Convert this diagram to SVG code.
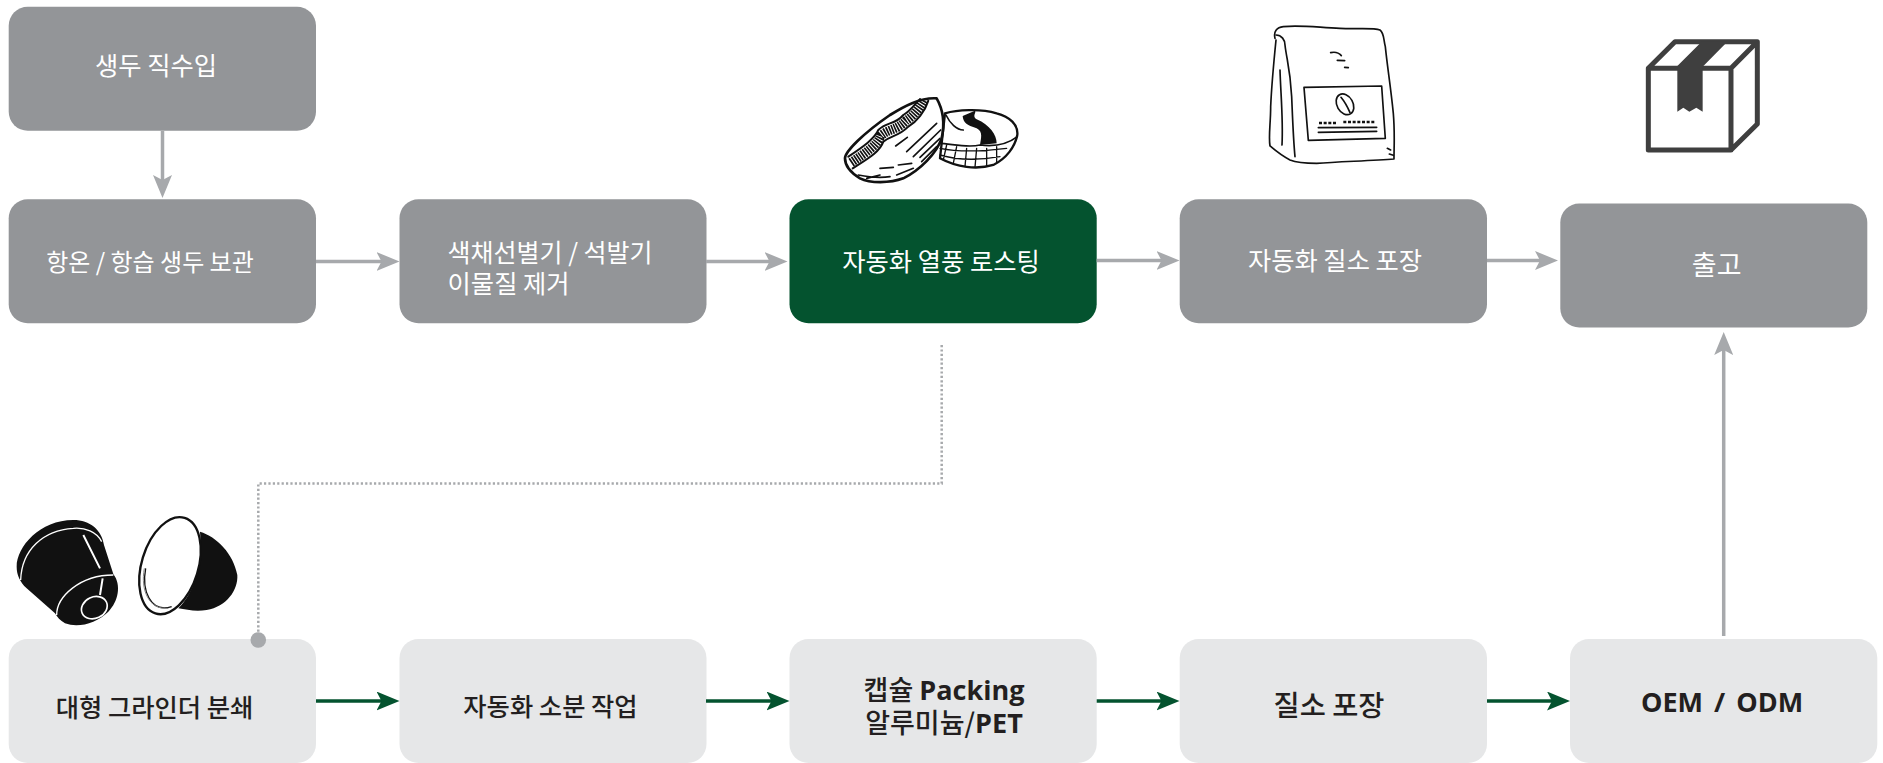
<svg xmlns="http://www.w3.org/2000/svg" width="1883" height="763" viewBox="0 0 1883 763">
<style>
text{font-family:"Noto Sans CJK KR","Noto Sans",sans-serif;font-size:25.3px}
.g{fill:#939598}.l{fill:#e6e7e8}.d{fill:#04532f}
.w{fill:#fff;font-weight:400}.k{fill:#231f20;font-weight:500}
.b{font-family:"Open Sans","Noto Sans CJK KR",sans-serif;font-weight:700}
.c{fill:none;stroke:#a7a9ac;stroke-width:3.5}
.cg{fill:none;stroke:#04532f;stroke-width:3.5}
.ink{fill:none;stroke:#111;stroke-linecap:round;stroke-linejoin:round}
</style>
<defs>
<marker id="ah" markerUnits="userSpaceOnUse" markerWidth="23" markerHeight="19" viewBox="0 0 23 19" refX="6" refY="9.5" orient="auto"><path d="M0,0L23,9.5L0,19L5,9.5Z" fill="#a7a9ac"/></marker>
<marker id="ag" markerUnits="userSpaceOnUse" markerWidth="23" markerHeight="19" viewBox="0 0 23 19" refX="6" refY="9.5" orient="auto"><path d="M0,0L23,9.5L0,19L5,9.5Z" fill="#04532f"/></marker>
</defs>
<rect width="1883" height="763" fill="#fff"/>
<g id="n1"><rect class="g" x="8.7" y="6.7" width="307.3" height="124" rx="19"/><text class="w" x="156" y="75" text-anchor="middle">생두 직수입</text></g>
<g id="n2"><rect class="g" x="8.7" y="199.3" width="307.3" height="124" rx="19"/><text class="w" x="150" y="271" text-anchor="middle" style="font-size:24px">항온 / 항습 생두 보관</text></g>
<g id="n3"><rect class="g" x="399.5" y="199.3" width="307" height="124" rx="19"/><text class="w" x="447.6" y="262" style="font-size:25px">색채선별기 / 석발기</text><text class="w" x="447.6" y="293">이물질 제거</text></g>
<g id="n4"><rect class="d" x="789.5" y="199.3" width="307.2" height="124" rx="19"/><text class="w" x="941" y="271" text-anchor="middle">자동화 열풍 로스팅</text></g>
<g id="n5"><rect class="g" x="1179.7" y="199.3" width="307.3" height="124" rx="19"/><text class="w" x="1335" y="270" text-anchor="middle">자동화 질소 포장</text></g>
<g id="n6"><rect class="g" x="1560.3" y="203.5" width="307" height="124" rx="19"/><text class="w" x="1716.7" y="275" text-anchor="middle" style="font-size:27px">출고</text></g>
<g id="n7"><rect class="l" x="8.7" y="639" width="307.3" height="124" rx="19"/><text class="k" x="154.5" y="717" text-anchor="middle">대형 그라인더 분쇄</text></g>
<g id="n8"><rect class="l" x="399.5" y="639" width="307" height="124" rx="19"/><text class="k" x="550.5" y="716" text-anchor="middle">자동화 소분 작업</text></g>
<g id="n9"><rect class="l" x="789.5" y="639" width="307.2" height="124" rx="19"/><text class="k" x="944" y="700" text-anchor="middle" style="font-size:27px">캡슐 <tspan class="b">Packing</tspan></text><text class="k" x="944" y="733" text-anchor="middle" style="font-size:27px">알루미늄/<tspan class="b">PET</tspan></text></g>
<g id="n10"><rect class="l" x="1179.7" y="639" width="307.3" height="124" rx="19"/><text class="k" x="1329" y="716" text-anchor="middle" style="font-size:28.4px">질소 포장</text></g>
<g id="n11"><rect class="l" x="1570" y="639" width="307.3" height="124" rx="19"/><text class="k b" x="1722" y="712" text-anchor="middle" style="font-size:27px;word-spacing:4px">OEM / ODM</text></g>

<g id="connectors">
<path class="c" marker-end="url(#ah)" d="M162.5,131V181"/>
<path class="c" marker-end="url(#ah)" d="M316,261.5H382.5"/>
<path class="c" marker-end="url(#ah)" d="M706,261.5H770.5"/>
<path class="c" marker-end="url(#ah)" d="M1096.7,260.5H1162.5"/>
<path class="c" marker-end="url(#ah)" d="M1487,260.5H1541"/>
<path class="c" marker-end="url(#ah)" d="M1723.7,636V349"/>
<path class="cg" marker-end="url(#ag)" d="M316,701H382.5"/>
<path class="cg" marker-end="url(#ag)" d="M706,701H772.5"/>
<path class="cg" marker-end="url(#ag)" d="M1096.7,701H1162.5"/>
<path class="cg" marker-end="url(#ag)" d="M1487,701H1553"/>
<path fill="none" stroke="#a7a9ac" stroke-width="2.5" stroke-dasharray="2.2 2.2" d="M941.7,345V483.5H258.3V635"/>
<circle cx="258.3" cy="640" r="7.8" fill="#a7a9ac"/>
</g>

<g id="bean" transform="translate(780 80) scale(.3333)">
<path class="ink" stroke-width="7" fill="#fff" d="M495,100C530,90 600,85 650,100C690,110 715,135 712,165C705,200 680,235 640,255C590,270 530,262 480,235Z"/>
<path d="M548,108C550,128 560,135 590,145C610,155 603,175 600,195L650,190C650,165 630,135 590,118C575,108 590,98 585,92Z" fill="#111"/>
<path class="ink" stroke-width="5" d="M498,105C510,130 530,150 550,150M600,195C640,200 680,195 712,170M478,190C510,190 560,205 600,195"/>
<path class="ink" stroke-width="4" d="M480,205C530,215 600,215 680,205M480,225C530,240 600,240 660,230M500,195L490,240M530,200L520,250M560,205L555,260M590,205L585,262M620,205L620,258M650,200L650,245"/>
<path class="ink" stroke-width="8" fill="#fff" d="M195,235C195,215 250,160 330,105C370,80 420,52 470,55C490,90 495,130 485,175C470,220 420,270 370,295C330,310 270,310 240,295C215,280 195,260 195,235Z"/>
<path class="ink" stroke-width="6" d="M205,230C250,200 285,175 295,150C320,125 345,135 370,105C395,90 405,70 420,58M218,265C265,235 300,215 310,185C335,165 355,170 385,140C410,125 435,95 445,62"/>
<path fill="none" stroke="#111" stroke-width="28" stroke-dasharray="5 3" d="M213,248C258,218 292,195 302,168C327,145 350,152 378,122C402,107 420,82 432,60"/>
<path class="ink" stroke-width="5" d="M347,198L382,172M470,130L380,215M482,150L400,230M480,175L420,232M470,200L425,245M355,255L395,250M300,265L340,262M235,285C260,290 300,295 330,290M260,295L300,285M350,285L400,265"/>
</g>

<g id="bag" transform="translate(1240 10) scale(.3333)">
<path class="ink" stroke-width="5" d="M105,85C100,65 110,52 130,50C180,45 230,52 300,55C350,58 400,52 420,60C432,68 430,85 436,110C442,170 452,230 460,310C465,370 462,410 462,447C400,452 300,455 230,460C200,460 170,458 150,450C130,440 110,425 90,408C85,380 92,340 92,290C95,220 102,150 108,90"/>
<path class="ink" stroke-width="5" d="M108,75C125,75 135,90 135,105C140,150 150,170 155,260C158,330 160,390 165,440"/>
<path class="ink" stroke-width="5" d="M120,180C122,250 130,330 126,405M272,128C285,125 298,130 304,137M292,151L314,152M314,172L325,173M442,415L452,420M448,432L460,436"/>
<path class="ink" stroke-width="5" d="M192,232L425,228L436,385L205,391Z"/>
<ellipse class="ink" stroke-width="5" cx="315" cy="283" rx="24" ry="33" transform="rotate(-30 315 283)"/>
<path class="ink" stroke-width="5" d="M303,262Q318,280 330,308M235,353L410,352M235,367L410,364"/>
<path fill="none" stroke="#111" stroke-width="8" stroke-dasharray="9 5" d="M237,339H290M310,336H405"/>
</g>

<g id="box" transform="translate(1620 20) scale(.3333)">
<path d="M85,145L165,65H412L333,145ZM412,65V312L333,390M85,145H333V390H85Z" fill="none" stroke="#3f3f3f" stroke-width="15" stroke-linejoin="round"/>
<path d="M245,65H322L248,140V275L229,263L208,275L190,263L172,275V138Z" fill="#3f3f3f"/>
</g>

<g id="capsules" transform="translate(0 500) scale(.3333)">
<path fill="#111" d="M50,200C50,140 120,60 220,60C270,60 305,90 312,135L340,222C365,255 355,305 325,335C290,370 235,385 195,370C180,362 172,352 165,340L80,265C60,245 50,225 50,200Z"/>
<path fill="none" stroke="#fff" stroke-width="4" d="M62,240C65,150 130,90 220,85C255,82 290,95 305,125M170,345C170,290 240,225 340,225"/>
<ellipse cx="283" cy="323" rx="40" ry="32" transform="rotate(-25 283 323)" fill="#111" stroke="#fff" stroke-width="5"/>
<path fill="none" stroke="#fff" stroke-width="6" d="M250,105L300,205M308,235L300,285"/>
<path fill="#111" d="M600,95C650,110 700,160 712,225C715,270 680,320 620,330C590,335 560,330 535,325C580,280 610,200 600,95Z"/>
<ellipse cx="510" cy="197" rx="85" ry="150" transform="rotate(17 510 197)" fill="#fff" stroke="#111" stroke-width="7"/>
<path fill="none" stroke="#111" stroke-width="4" d="M437,205C425,270 450,340 515,320"/>
<path fill="none" stroke="#888" stroke-width="3" d="M433,205C421,270 446,330 505,325"/>
</g>
</svg>
